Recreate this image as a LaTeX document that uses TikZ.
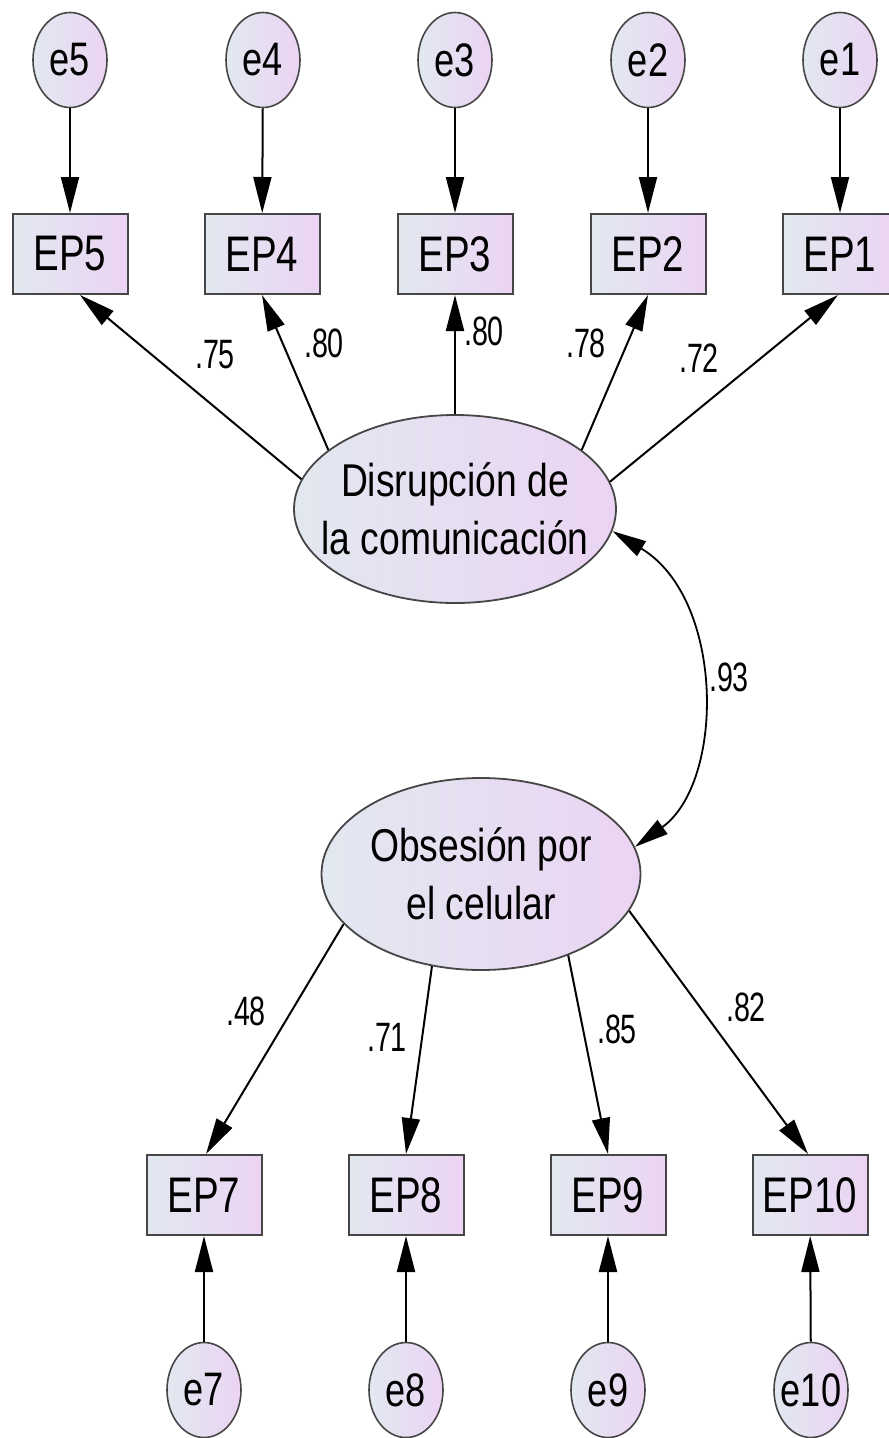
\documentclass[tikz,border=0pt]{standalone}
\usepackage{fontspec}
\setmainfont{Liberation Sans}[FakeStretch=0.77]
\newfontfamily\labfont{Liberation Sans}[FakeStretch=0.7]
\newfontfamily\latfont{Liberation Sans}[FakeStretch=0.81]
\usetikzlibrary{shapes.geometric,arrows.meta}
\definecolor{fillL}{RGB}{226,232,240}
\definecolor{fillR}{RGB}{235,212,243}
\definecolor{edge}{RGB}{70,70,70}
\tikzset{
  obsbox/.style={draw=edge, line width=2pt, left color=fillL, right color=fillR,
    minimum width=115pt, minimum height=80pt, inner sep=0pt,
    font=\fontsize{50}{60}\selectfont},
  errnode/.style={ellipse, draw=edge, line width=1.6pt, left color=fillL, right color=fillR,
    minimum width=74pt, minimum height=95pt, inner sep=-16pt,
    font=\fontsize{47}{55}\selectfont},
  latnode/.style={ellipse, draw=edge, line width=1.8pt, left color=fillL, right color=fillR,
    inner xsep=-60pt, inner ysep=0pt, align=center,
    font=\latfont\fontsize{46}{58}\selectfont},
  lbl/.style={inner sep=0pt, font=\labfont\fontsize{41}{48}\selectfont},
  arr/.style={-{Triangle[length=36pt,width=18pt]}, line width=2pt, black},
  darr/.style={{Triangle[length=34pt,width=17pt]}-{Triangle[length=34pt,width=17pt]}, line width=1.8pt, black},
}
\begin{document}
\begin{tikzpicture}[x=1pt,y=-1pt]
\useasboundingbox (0,0) rectangle (889,1438);
\clip (0,0) rectangle (889,1438);
% error terms top
\node[errnode] (e5) at (70,60) {e5};
\node[errnode] (e4) at (263,60) {e4};
\node[errnode] (e3) at (455,60) {e3};
\node[errnode] (e2) at (648,60) {e2};
\node[errnode] (e1) at (840,60) {e1};
% indicators top
\node[obsbox] (EP5) at (70,254) {EP5};
\node[obsbox] (EP4) at (262,254) {EP4};
\node[obsbox] (EP3) at (455,254) {EP3};
\node[obsbox] (EP2) at (648,254) {EP2};
\node[obsbox] (EP1) at (840,254) {EP1};
% latent variables
\node[latnode, minimum width=322pt, minimum height=188pt] (D) at (455,509) {Disrupción de\\la comunicación};
\node[latnode, minimum width=319pt, minimum height=192pt] (O) at (481,874) {Obsesión por\\el celular};
% indicators bottom
\node[obsbox] (EP7) at (204,1195) {EP7};
\node[obsbox] (EP8) at (406,1195) {EP8};
\node[obsbox] (EP9) at (608,1195) {EP9};
\node[obsbox] (EP10) at (810,1195) {EP10};
% error terms bottom
\node[errnode] (e7) at (204,1390) {e7};
\node[errnode] (e8) at (406,1390) {e8};
\node[errnode] (e9) at (608,1390) {e9};
\node[errnode] (e10) at (811,1390) {e10};
% error arrows
\foreach \e/\b in {e5/EP5,e4/EP4,e3/EP3,e2/EP2,e1/EP1,e7/EP7,e8/EP8,e9/EP9,e10/EP10}
  \draw[arr] (\e) -- (\b);
% loadings top
\draw[arr] (D.169) -- ([xshift=10pt]EP5.south);
\draw[arr] (D.155) -- (EP4.south);
\draw[arr] (D.north) -- (EP3.south);
\draw[arr] (D.25) -- (EP2.south);
\draw[arr] (D.10) -- ([xshift=-2pt]EP1.south);
% loadings bottom
\draw[arr] (O.200) -- ([xshift=2pt]EP7.north);
\draw[arr] (O.242) -- (EP8.north);
\draw[arr] (O.317) -- (EP9.north);
\draw[arr] (O.346) -- ([xshift=-2pt]EP10.north);
% covariance
\draw[darr] (D.352) .. controls (725,599) and (725,782) .. (O.10);
% labels
\node[lbl] (l75) at (215,355) {.75};
\node[lbl] (l80a) at (324,343) {.80};
\node[lbl] (l80b) at (484,331) {.80};
\node[lbl] (l78) at (586,343) {.78};
\node[lbl] (l72) at (699,358) {.72};
\node[lbl] (l93) at (729,677) {.93};
\node[lbl] (l48) at (246,1011) {.48};
\node[lbl] (l71) at (387,1037) {.71};
\node[lbl] (l85) at (617,1029) {.85};
\node[lbl] (l82) at (746,1007) {.82};
\end{tikzpicture}
\end{document}
